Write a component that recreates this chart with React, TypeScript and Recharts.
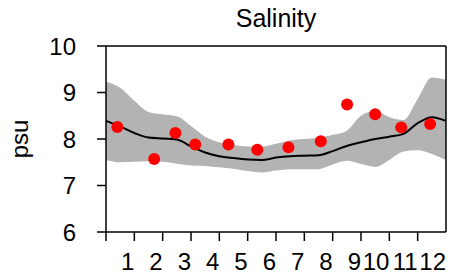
import React from 'react';
import { ComposedChart, Area, Line, Scatter, XAxis, YAxis, ReferenceLine } from 'recharts';

// model curve, sampled every half month
const modelX = [0, 0.5, 1, 1.5, 2, 2.5, 3, 3.5, 4, 4.5, 5, 5.5, 6, 6.5, 7, 7.5, 8, 8.5, 9, 9.5, 10, 10.5, 11, 11.5, 12];
const modelMid = [8.39, 8.27, 8.13, 8.03, 8.01, 7.99, 7.84, 7.71, 7.63, 7.59, 7.56, 7.55, 7.6, 7.63, 7.64, 7.65, 7.74, 7.85, 7.93, 8.0, 8.05, 8.11, 8.34, 8.47, 8.39];
const modelLow = [7.55, 7.5, 7.51, 7.52, 7.51, 7.47, 7.43, 7.42, 7.39, 7.36, 7.31, 7.28, 7.32, 7.35, 7.35, 7.35, 7.45, 7.53, 7.46, 7.4, 7.55, 7.73, 7.76, 7.68, 7.55];
const modelHigh = [9.23, 9.1, 8.82, 8.58, 8.53, 8.49, 8.28, 8.05, 7.93, 7.87, 7.84, 7.84, 7.9, 7.97, 8.0, 8.02, 8.09, 8.18, 8.5, 8.6, 8.47, 8.41, 8.86, 9.32, 9.27];

// observations
const obsX = [0.4, 1.7, 2.45, 3.15, 4.32, 5.34, 6.44, 7.58, 8.51, 9.5, 10.42, 11.44];
const obsY = [8.26, 7.57, 8.13, 7.88, 7.88, 7.77, 7.82, 7.95, 8.74, 8.53, 8.25, 8.32];

const yTicks = [6, 7, 8, 9, 10];
const xTicks = [0, 1, 2, 3, 4, 5, 6, 7, 8, 9, 10, 11, 12];
const monthLabels = ['', '1', '2', '3', '4', '5', '6', '7', '8', '9', '10', '11', '12'];

const FONT = '"Liberation Sans", Arial, sans-serif';

const modelData = modelX.map((x, i) => ({ x, band: [modelLow[i], modelHigh[i]], mid: modelMid[i] }));
const obsData = obsX.map((x, i) => ({ x, y: obsY[i] }));

const MonthTick = (props: any) => {
    const { x, y, payload } = props;
    const v = payload.value as number;
    return (
        <g>
            {v < 12 && <line x1={x} y1={y} x2={x} y2={y + 9} stroke="#000" strokeWidth={1.5} />}
            <text x={x} y={y + 38} textAnchor="end" fontSize={24} fontFamily={FONT} fill="#000">
                {monthLabels[v]}
            </text>
        </g>
    );
};

const Dot = (props: any) => <circle cx={props.cx} cy={props.cy} r={6} fill="#ff0000" />;

export default function App() {
    return (
        <div style={{ position: 'absolute', left: 0, top: 0, width: 457, height: 279, background: '#fff' }}>
            <ComposedChart width={457} height={279} data={modelData} margin={{ top: 46, right: 11, left: 0, bottom: 0 }}>
                <XAxis
                    dataKey="x"
                    type="number"
                    domain={[0, 12]}
                    ticks={xTicks}
                    interval={0}
                    height={47}
                    tickSize={0}
                    tickMargin={0}
                    tickLine={false}
                    axisLine={{ stroke: '#000', strokeWidth: 1.5 }}
                    tick={<MonthTick />}
                />
                <YAxis
                    type="number"
                    domain={[6, 10]}
                    ticks={yTicks}
                    width={106}
                    tickSize={9}
                    tickMargin={21}
                    axisLine={{ stroke: '#000', strokeWidth: 1.5 }}
                    tickLine={{ stroke: '#000', strokeWidth: 1.5 }}
                    tick={{ fontSize: 24, fontFamily: FONT, fill: '#000' }}
                />
                <Area dataKey="band" type="monotone" fill="#b3b3b3" fillOpacity={1} stroke="none" isAnimationActive={false} />
                <Line dataKey="mid" type="monotone" stroke="#000" strokeWidth={2} dot={false} isAnimationActive={false} />
                <Scatter data={obsData} dataKey="y" shape={<Dot />} isAnimationActive={false} />
                <ReferenceLine y={10} stroke="#000" strokeWidth={1.5} />
                <ReferenceLine x={12} stroke="#000" strokeWidth={1.5} />
            </ComposedChart>
            <svg width={457} height={279} style={{ position: 'absolute', left: 0, top: 0, pointerEvents: 'none' }}>
                <text x={276} y={27} textAnchor="middle" fontSize={25} fontFamily={FONT} fill="#000">Salinity</text>
                <text transform="translate(28,139) rotate(-90)" textAnchor="middle" fontSize={24} fontFamily={FONT} fill="#000">psu</text>
            </svg>
        </div>
    );
}
